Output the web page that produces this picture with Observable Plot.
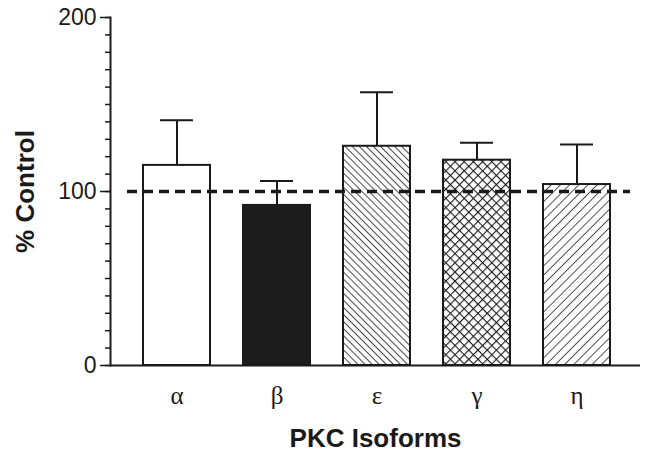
<!DOCTYPE html>
<html><head><meta charset="utf-8">
<script src="https://cdn.jsdelivr.net/npm/d3@7"></script>
<script src="https://cdn.jsdelivr.net/npm/@observablehq/plot@0.6"></script>
<style>
body{margin:0;background:#fff}
svg{background:#fff}
g[aria-label="y-axis label"] text, g[aria-label="x-axis label"] text{font-family:"Liberation Sans",Arial,sans-serif;font-weight:bold;font-size:26px;fill:#1a1a1a}
</style>
</head><body><div id="chart"></div>
<script>
const isoforms = ["α","β","ε","γ","η"];
const means = [115, 92, 126, 118, 104];
const upperErr = [141, 106, 157, 128, 127];
const fills = ["white", "#1c1c1c", "url(#hatchBack)", "url(#hatchCross)", "url(#hatchFwd)"];
const yTicks = [0, 100, 200];
const minorTicks = [0,10,20,30,40,50,60,70,80,90,100,110,120,130,140,150,160,170,180,190,200];
const controlLevel = [100];

const data = isoforms.map((k, i) => ({isoform: k, mean: means[i], err: upperErr[i], fill: fills[i]}));

function defs(index, scales, values, dims, context) {
  const d = d3.create("svg:defs");
  const mk = (id, s, angle, cross, sw) => {
    const p = d.append("pattern").attr("id", id).attr("patternUnits", "userSpaceOnUse")
      .attr("width", s).attr("height", s).attr("patternTransform", `rotate(${angle})`);
    p.append("rect").attr("width", s).attr("height", s).attr("fill", "white");
    p.append("line").attr("x1", 0).attr("y1", 0).attr("x2", 0).attr("y2", s).attr("stroke", "#1a1a1a").attr("stroke-width", sw);
    if (cross) p.append("line").attr("x1", 0).attr("y1", 0).attr("x2", s).attr("y2", 0).attr("stroke", "#1a1a1a").attr("stroke-width", sw);
  };
  mk("hatchBack", 5, -45, false, 1.6);
  mk("hatchCross", 6.5, 45, true, 2.2);
  mk("hatchFwd", 6.5, 45, false, 1.5);
  return d.node();
}

const chart = Plot.plot({
  width: 650,
  height: 454,
  marginLeft: 110,
  marginRight: 10,
  marginTop: 17,
  marginBottom: 89,
  style: {fontFamily: "Liberation Sans, Arial, sans-serif", color: "#1a1a1a", background: "white"},
  color: {type: "identity"},
  x: {domain: isoforms, range: [126, 626], paddingInner: 0.33, paddingOuter: 0.165},
  y: {domain: [0, 200]},
  marks: [
    defs,
    Plot.barY(data, {x: "isoform", y: "mean", fill: "fill", stroke: "#1a1a1a", strokeWidth: 2}),
    Plot.ruleX(data, {x: "isoform", y1: "mean", y2: "err", stroke: "#1a1a1a", strokeWidth: 2}),
    Plot.tickY(data, {x: "isoform", y: "err", insetLeft: 17, insetRight: 17, stroke: "#1a1a1a", strokeWidth: 2}),
    Plot.ruleY(controlLevel, {stroke: "#1a1a1a", strokeWidth: 3.5, strokeDasharray: "10,6", insetLeft: 17, insetRight: 10}),
    Plot.ruleY([0], {stroke: "#1a1a1a", strokeWidth: 2}),
    Plot.frame({anchor: "left", stroke: "#1a1a1a", strokeWidth: 2}),
    Plot.axisY(minorTicks, {tickSize: 5, text: null, label: null, strokeWidth: 1.5}),
    Plot.axisY(yTicks, {tickSize: 10, tickPadding: 4, fontSize: 23, strokeWidth: 1.5, label: "% Control", labelAnchor: "center", labelOffset: 95, labelArrow: "none"}),
    Plot.axisX({tickSize: 0, tickPadding: 21, fontSize: 25, fontFamily: "Liberation Serif, Times New Roman, serif", label: "PKC Isoforms", labelAnchor: "center", labelOffset: 81, labelArrow: "none"})
  ]
});
document.getElementById("chart").append(chart);
</script>
</body></html>
